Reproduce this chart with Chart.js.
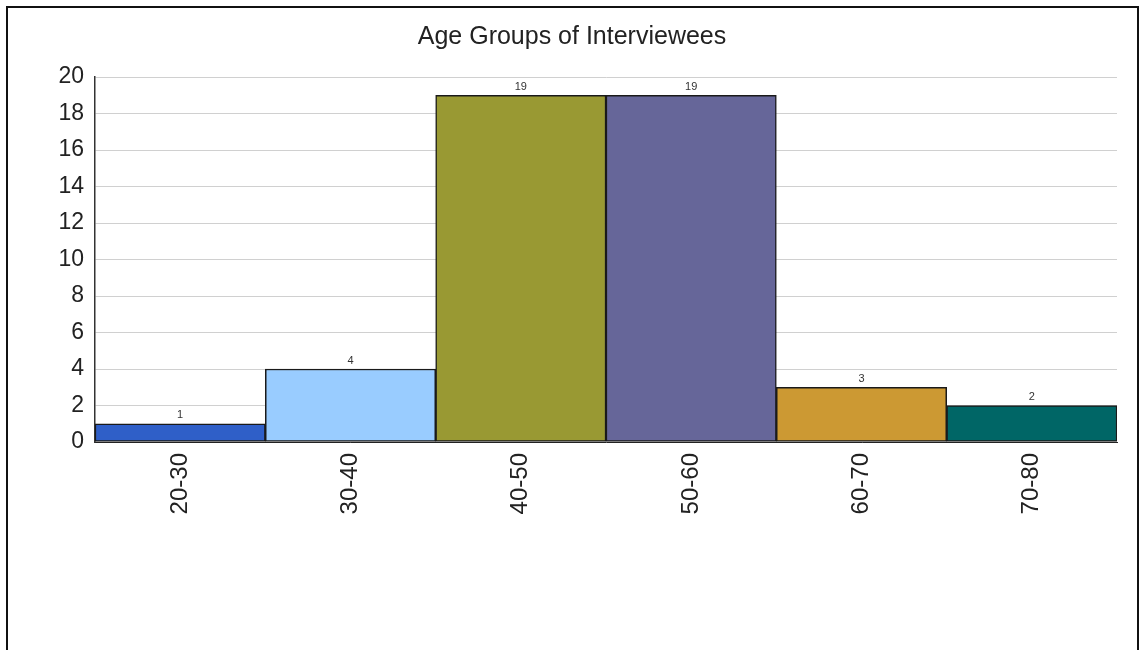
<!DOCTYPE html>
<html>
<head>
<meta charset="utf-8">
<title>Age Groups of Interviewees</title>
<script src="https://cdn.jsdelivr.net/npm/chart.js@4.4.1/dist/chart.umd.min.js"></script>
<style>
  html, body { margin: 0; padding: 0; background: #fff; overflow: hidden; }
  #wrap { position: relative; width: 1141px; height: 650px; }
  #frame {
    position: absolute; left: 6px; top: 6px; width: 1133px; height: 700px;
    box-sizing: border-box; border: 2px solid #111; pointer-events: none;
  }
  canvas { position: absolute; left: 0; top: 0; }
</style>
</head>
<body>
<div id="wrap">
  <canvas id="ageChart" width="1141" height="650"></canvas>
  <div id="frame"></div>
</div>
<script>
// age bands and how many interviewees fall in each
const ageGroups = ['20-30', '30-40', '40-50', '50-60', '60-70', '70-80'];
const counts = [1, 4, 19, 19, 3, 2];
const barColors = ['#2f5fc8', '#99ccff', '#999933', '#666699', '#cc9933', '#006666'];

const fontFamily = "'Liberation Sans', Arial, sans-serif";

// small value labels above each bar
const valueLabels = {
    id: 'valueLabels',
    afterDatasetsDraw(chart) {
        const ctx = chart.ctx;
        const meta = chart.getDatasetMeta(0);
        ctx.save();
        ctx.font = '11px ' + fontFamily;
        ctx.fillStyle = '#333';
        ctx.textAlign = 'center';
        ctx.textBaseline = 'bottom';
        meta.data.forEach((bar, i) => {
            ctx.fillText(String(counts[i]), bar.x, bar.y - 3);
        });
        ctx.restore();
    }
};

new Chart(document.getElementById('ageChart'), {
    type: 'bar',
    data: {
        labels: ageGroups,
        datasets: [{
            data: counts,
            backgroundColor: barColors,
            borderColor: '#1a1a1a',
            borderWidth: 1.5,
            borderSkipped: false,
            categoryPercentage: 1.0,
            barPercentage: 1.0
        }]
    },
    options: {
        responsive: false,
        animation: false,
        layout: { padding: { top: 22, right: 24, bottom: 0, left: 27 } },
        plugins: {
            legend: { display: false },
            tooltip: { enabled: false },
            title: {
                display: true,
                text: 'Age Groups of Interviewees',
                color: '#222',
                font: { family: fontFamily, size: 25, weight: 'normal', lineHeight: 1.2 },
                padding: { top: 0, bottom: 25 }
            }
        },
        scales: {
            x: {
                grid: { display: false },
                border: { display: true, color: '#222' },
                ticks: {
                    color: '#222',
                    font: { family: fontFamily, size: 24 },
                    minRotation: 90,
                    maxRotation: 90,
                    padding: 3
                },
                afterFit: (scale) => { scale.height = 208; }
            },
            y: {
                min: 0,
                max: 20,
                grid: { color: '#d0d0d0', lineWidth: 1, drawTicks: false },
                border: { display: true, color: '#333', width: 1.5 },
                ticks: {
                    stepSize: 2,
                    color: '#222',
                    font: { family: fontFamily, size: 23 },
                    padding: 11
                },
                afterFit: (scale) => { scale.width = 68; }
            }
        }
    },
    plugins: [valueLabels]
});
</script>
</body>
</html>
